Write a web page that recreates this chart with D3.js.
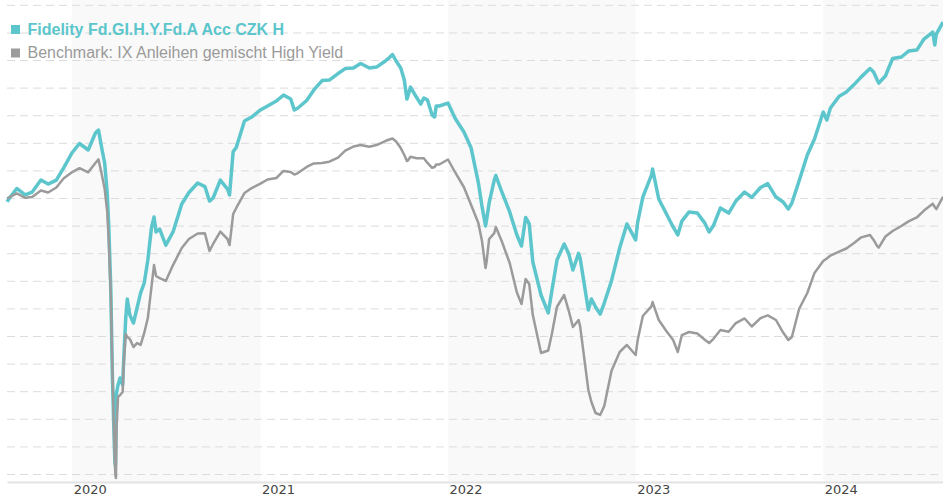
<!DOCTYPE html>
<html>
<head>
<meta charset="utf-8">
<script src="https://cdn.jsdelivr.net/npm/d3@7"></script>
<style>
  html, body { margin: 0; padding: 0; background: #fff; }
  svg { display: block; }
</style>
</head>
<body>
<div id="chart"></div>
<script>
/***** data (performance in %) *****/
var dates = [
  "2019-08-27","2019-09-01","2019-09-15","2019-10-01","2019-10-15","2019-11-01","2019-11-15","2019-12-01","2019-12-15",
  "2020-01-01","2020-01-15","2020-02-01","2020-02-15","2020-02-21","2020-02-28","2020-03-04","2020-03-09","2020-03-12","2020-03-16",
  "2020-03-19","2020-03-23","2020-03-24","2020-03-25","2020-03-26","2020-03-27","2020-03-30","2020-04-03","2020-04-08","2020-04-10",
  "2020-04-14","2020-04-17","2020-04-22","2020-04-29","2020-05-06","2020-05-13","2020-05-20","2020-05-27","2020-06-03","2020-06-08",
  "2020-06-12","2020-06-19","2020-07-01","2020-07-15","2020-08-01","2020-08-15","2020-09-01","2020-09-15","2020-09-24","2020-10-01",
  "2020-10-15","2020-10-29","2020-11-02","2020-11-09","2020-11-15","2020-12-01","2020-12-15",
  "2021-01-01","2021-01-15","2021-02-01","2021-02-15","2021-03-01","2021-03-08","2021-03-15","2021-04-01","2021-04-15","2021-05-01",
  "2021-05-15","2021-06-01","2021-06-15","2021-07-01","2021-07-15","2021-08-01","2021-08-15","2021-09-01","2021-09-09","2021-09-15",
  "2021-09-22","2021-10-01","2021-10-08","2021-10-13","2021-10-15","2021-10-20","2021-11-01","2021-11-09","2021-11-15","2021-11-22",
  "2021-12-01","2021-12-06","2021-12-09","2021-12-15",
  "2022-01-01","2022-01-15","2022-02-01","2022-02-15","2022-03-01","2022-03-08","2022-03-15","2022-03-17","2022-03-22","2022-04-01",
  "2022-04-04","2022-04-15","2022-05-01","2022-05-15","2022-05-24","2022-06-01","2022-06-08","2022-06-15","2022-07-01","2022-07-15",
  "2022-07-22","2022-08-01","2022-08-15","2022-08-24","2022-09-01","2022-09-12","2022-09-15","2022-10-01","2022-10-07","2022-10-15",
  "2022-10-24","2022-11-01","2022-11-15","2022-12-01","2022-12-15",
  "2023-01-01","2023-01-05","2023-01-15","2023-02-01","2023-02-03","2023-02-15","2023-03-01","2023-03-15","2023-03-24","2023-04-01",
  "2023-04-15","2023-05-01","2023-05-15","2023-05-24","2023-06-01","2023-06-15","2023-07-01","2023-07-15","2023-08-01","2023-08-15",
  "2023-09-01","2023-09-15","2023-10-01","2023-10-15","2023-10-25","2023-11-01","2023-11-15","2023-12-01","2023-12-15",
  "2024-01-01","2024-01-08","2024-01-15","2024-02-01","2024-02-15","2024-03-01","2024-03-15","2024-04-01","2024-04-08","2024-04-15",
  "2024-04-18","2024-05-01","2024-05-15","2024-06-01","2024-06-15","2024-07-01","2024-07-15","2024-08-01","2024-08-05","2024-08-08",
  "2024-08-21"
];

var fundValues = [
  -0.27, 0.00, 0.69, 0.22, 0.43, 1.30, 1.01, 1.30, 2.17,
  3.30, 3.95, 3.48, 4.71, 4.93, 3.48, 2.54, 0.36, -2.03, -6.67,
  -12.83, -18.12, -19.13, -19.42, -16.81, -14.13, -13.55, -13.04, -13.55, -11.74,
  -8.70, -7.32, -8.48, -9.06, -7.97, -6.88, -6.16, -4.49, -2.17, -1.38,
  -2.46, -2.25, -3.41, -2.46, -0.43, 0.40, 1.09, 0.83, -0.22, 0.00,
  1.30, 0.65, 0.22, 3.36, 3.66, 5.58, 5.87,
  6.38, 6.67, 7.03, 7.46, 7.17, 6.38, 6.52, 7.07, 7.83, 8.51,
  8.55, 9.02, 9.38, 9.42, 9.75, 9.42, 9.49, 9.93, 10.18, 10.40,
  9.93, 9.42, 8.55, 7.17, 7.39, 8.04, 7.28, 6.81, 7.25, 7.10,
  6.01, 5.87, 6.67, 6.67,
  6.88, 5.76, 4.78, 3.62, 1.12, -0.58, -2.03, -1.59, -0.36, 1.30,
  1.63, 0.51, -1.01, -2.68, -3.48, -1.41, -1.88, -4.64, -7.03, -8.33,
  -6.74, -4.49, -3.33, -4.06, -5.22, -4.01, -4.35, -8.12, -7.32, -7.90,
  -8.41, -7.61, -6.01, -3.62, -1.88,
  -3.04, -1.74, 0.07, 1.67, 2.10, -0.07, -1.09, -2.10, -2.68, -1.67,
  -1.01, -1.09, -1.78, -2.46, -2.03, -0.72, -1.09, -0.22, 0.43, 0.04,
  0.76, 1.04, 0.07, -0.29, -0.80, -0.36, 1.23, 3.12, 4.28,
  6.23, 5.65, 6.52, 7.38, 7.68, 8.22, 8.78, 9.38, 9.13, 8.55,
  8.33, 8.84, 10.11, 10.22, 10.65, 10.72, 11.52, 12.03, 11.09, 11.88,
  12.75
];

var benchValues = [
  -0.02, 0.07, 0.33, 0.02, 0.07, 0.54, 0.40, 0.76, 1.41,
  1.88, 2.16, 1.86, 2.54, 2.80, 1.59, 0.65, -1.01, -3.12, -7.10,
  -12.46, -18.12, -19.35, -20.14, -20.29, -16.81, -14.42, -14.28, -14.06, -12.10,
  -9.86, -10.07, -10.22, -10.80, -10.51, -10.65, -9.78, -8.70, -6.45, -4.86,
  -5.65, -5.80, -6.01, -4.86, -3.62, -2.97, -2.57, -2.56, -3.84, -3.33,
  -2.44, -2.97, -3.41, -1.16, -0.72, 0.36, 0.72,
  1.04, 1.34, 1.45, 1.96, 1.88, 1.70, 1.81, 2.25, 2.51, 2.54,
  2.63, 2.93, 3.44, 3.73, 3.84, 3.71, 3.84, 4.13, 4.24, 4.31,
  4.09, 3.62, 3.12, 2.68, 2.72, 2.99, 2.88, 2.88, 2.88, 2.54,
  2.19, 2.25, 2.43, 2.43,
  2.79, 1.85, 0.78, -0.50, -1.81, -3.09, -5.07, -4.64, -2.97, -2.54,
  -2.10, -3.08, -4.71, -6.85, -7.68, -5.87, -6.23, -8.48, -11.23, -11.05,
  -9.86, -7.88, -7.03, -8.19, -9.35, -8.84, -9.28, -13.91, -14.78, -15.58,
  -15.72, -15.07, -12.54, -11.16, -10.65,
  -11.38, -10.29, -8.55, -7.83, -7.54, -8.84, -9.60, -10.29, -11.16, -9.93,
  -9.71, -9.82, -10.25, -10.51, -10.22, -9.57, -9.69, -9.06, -8.73, -9.31,
  -8.70, -8.51, -8.84, -9.75, -10.29, -10.07, -8.04, -6.88, -5.43,
  -4.57, -4.38, -4.17, -3.88, -3.66, -3.26, -2.85, -2.68, -3.04, -3.48,
  -3.59, -2.79, -2.39, -2.03, -1.69, -1.41, -0.91, -0.41, -0.65, -0.80,
  0.09
];

var seriesNames = ["Fidelity Fd.GI.H.Y.Fd.A Acc CZK H", "Benchmark: IX Anleihen gemischt High Yield"];
var shadedYears = [2020, 2022, 2024];
var gridTicks = [-20, -18, -16, -14, -12, -10, -8, -6, -4, -2, 0, 2, 4, 6, 8, 10, 12, 14];

/***** chart parameters *****/
var width = 943;
var height = 500;
var plot = {left: 7, right: 943, top: 0, bottom: 482};
var fundColor = "#5cc6cc";
var benchColor = "#9b9b9b";

var parseDate = d3.timeParse("%Y-%m-%d");
var fund = dates.map(function(d, i){ return {date: parseDate(d), value: fundValues[i]}; });
var bench = dates.map(function(d, i){ return {date: parseDate(d), value: benchValues[i]}; });

var svg = d3.select("#chart")
  .append("svg")
  .attr("width", width)
  .attr("height", height)
;

//scales
var x = d3.scaleTime()
  .domain([fund[0].date, fund[fund.length - 1].date])
  .range([plot.left, plot.right])
;
var y = d3.scaleLinear()
  .domain([-20.58, 14.35])
  .range([plot.bottom, plot.top])
;

//alternating year bands
svg.append("g")
  .selectAll("rect")
  .data(shadedYears)
  .enter()
  .append("rect")
  .attr("x", function(d){ return Math.max(plot.left, x(new Date(d, 0, 1))); })
  .attr("width", function(d){
    var x0 = Math.max(plot.left, x(new Date(d, 0, 1)));
    var x1 = Math.min(plot.right, x(new Date(d + 1, 0, 1)));
    return x1 - x0;
  })
  .attr("y", plot.top)
  .attr("height", plot.bottom - plot.top)
  .attr("fill", "#f9f9f9")
;

//horizontal dashed grid
var yGrid = d3.axisLeft(y)
  .tickValues(gridTicks)
  .tickSize(-(plot.right - plot.left))
  .tickFormat("")
;
var gGrid = svg.append("g")
  .attr("transform", "translate(" + plot.left + ",0)")
  .call(yGrid)
;
gGrid.select(".domain").remove();
gGrid.selectAll("line")
  .attr("stroke", "#dcdcdc")
  .attr("stroke-width", 1)
  .attr("stroke-dasharray", "8,5")
;

//x axis
var xAxis = d3.axisBottom(x)
  .ticks(d3.timeYear.every(1))
  .tickSize(0)
  .tickPadding(0)
  .tickFormat(d3.timeFormat("%Y"))
;
var gX = svg.append("g")
  .attr("transform", "translate(0," + plot.bottom + ")")
  .call(xAxis)
;
gX.select(".domain")
  .attr("stroke", "#e3e3e3")
  .attr("stroke-width", 2)
;
gX.selectAll("text")
  .attr("text-anchor", "start")
  .attr("x", 1)
  .attr("y", 12)
  .attr("dy", 0)
  .attr("fill", "#444")
  .style("font-family", "'DejaVu Sans', Verdana, sans-serif")
  .style("font-size", "13px")
;

//lines
var line = d3.line()
  .x(function(d){ return x(d.date); })
  .y(function(d){ return y(d.value); })
;
svg.append("path")
  .datum(fund)
  .attr("fill", "none")
  .attr("stroke", fundColor)
  .attr("stroke-width", 3.5)
  .attr("stroke-linejoin", "round")
  .attr("d", line)
;
svg.append("path")
  .datum(bench)
  .attr("fill", "none")
  .attr("stroke", benchColor)
  .attr("stroke-width", 2.5)
  .attr("stroke-linejoin", "round")
  .attr("d", line)
;

//legend
var legend = svg.append("g")
  .style("font-family", "'Liberation Sans', Arial, sans-serif")
  .style("font-size", "16px")
;
var legendItems = legend.selectAll("g")
  .data(seriesNames)
  .enter()
  .append("g")
  .attr("transform", function(d, i){ return "translate(11," + (25 + i * 23.5) + ")"; })
;
legendItems.append("rect")
  .attr("width", 9)
  .attr("height", 9)
  .attr("fill", function(d, i){ return i === 0 ? fundColor : benchColor; })
;
legendItems.append("text")
  .attr("x", 16.5)
  .attr("y", 9.5)
  .attr("fill", function(d, i){ return i === 0 ? fundColor : "#9a9a9a"; })
  .style("font-weight", function(d, i){ return i === 0 ? "bold" : "normal"; })
  .text(function(d){ return d; })
;
</script>
</body>
</html>
